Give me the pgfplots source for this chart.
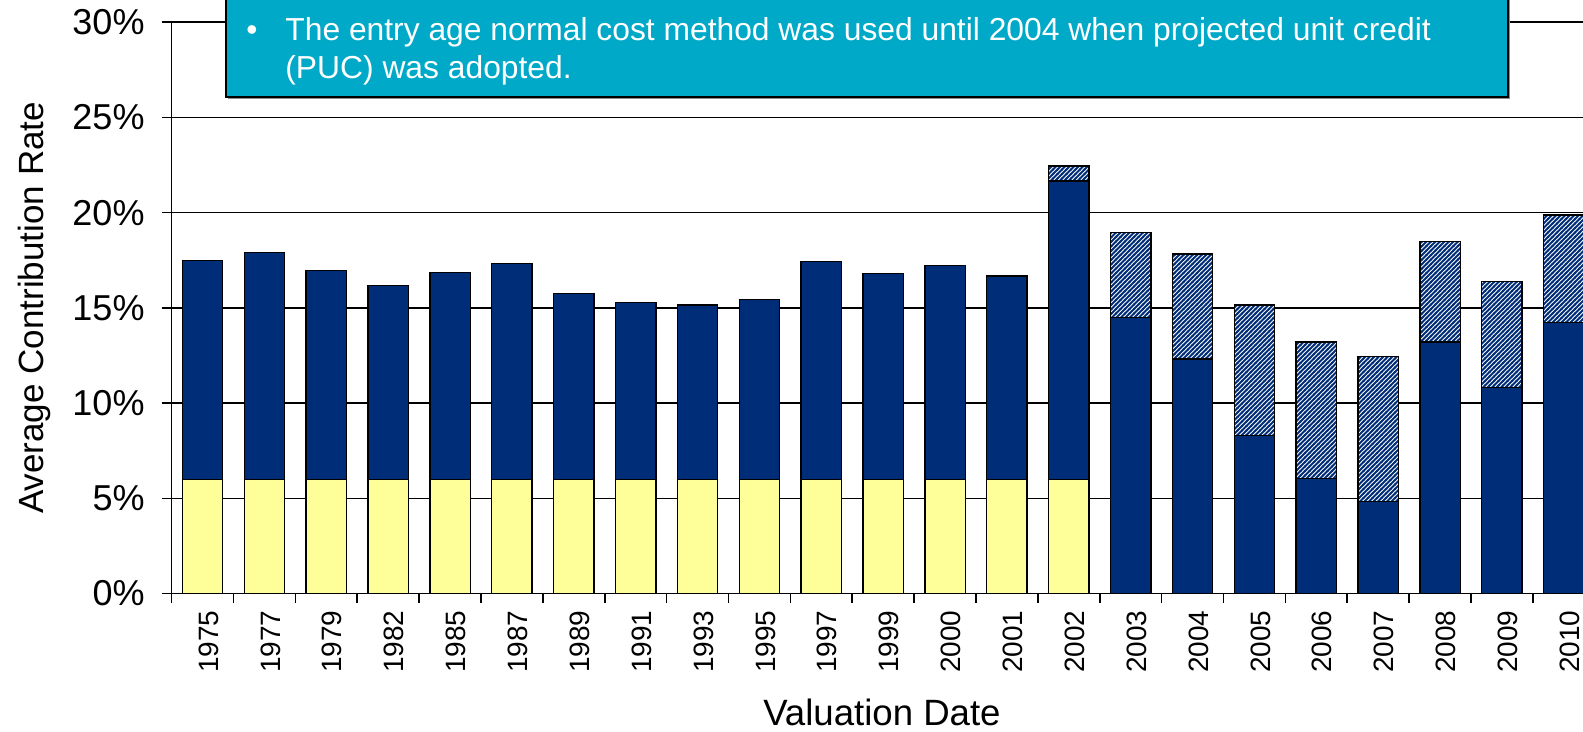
\documentclass[border=0pt]{standalone}
\usepackage{pgfplots}
\pgfplotsset{compat=1.18}
\usepackage{pgfplotstable}
\usepackage{fontspec}
\setmainfont{Liberation Sans}
\usetikzlibrary{patterns}
\definecolor{navy}{RGB}{0,45,120}
\definecolor{lightyellow}{RGB}{255,255,153}
\definecolor{callout}{RGB}{0,169,199}

\pgfdeclarepatternformonly{finehatch}{\pgfqpoint{-1pt}{-1pt}}{\pgfqpoint{3.3pt}{3.3pt}}{\pgfqpoint{2.25pt}{2.25pt}}{%
  \pgfsetlinewidth{0.9pt}%
  \pgfpathmoveto{\pgfqpoint{-0.3pt}{-0.3pt}}%
  \pgfpathlineto{\pgfqpoint{2.55pt}{2.55pt}}%
  \pgfusepath{stroke}}

\pgfplotstableread{
x yellow navy hatch
0 6 11.50 0
1 6 11.90 0
2 6 10.97 0
3 6 10.17 0
4 6 10.86 0
5 6 11.34 0
6 6 9.75 0
7 6 9.27 0
8 6 9.16 0
9 6 9.43 0
10 6 11.44 0
11 6 10.81 0
12 6 11.23 0
13 6 10.68 0
14 6 15.67 0.79
15 0 14.49 4.47
16 0 12.32 5.50
17 0 8.29 6.87
18 0 6.04 7.16
19 0 4.83 7.61
20 0 13.20 5.27
21 0 10.82 5.58
22 0 14.23 5.64
}\datatable

\begin{document}
\begin{tikzpicture}
\begin{axis}[
  at={(85.8pt,69.2pt)}, anchor=south west,
  scale only axis, width=705.7pt, height=285.7pt,
  xmin=-0.5, xmax=22.31, ymin=0, ymax=30,
  ybar stacked, bar width=20.2pt,
  axis x line*=bottom, axis y line*=left,
  axis line style={line width=0.8pt, black},
  ytick={0,5,...,30},
  yticklabels={0\%,5\%,10\%,15\%,20\%,25\%,30\%},
  ymajorgrids, grid style={black, line width=0.7pt},
  xtick={0,...,22},
  xticklabels={1975,1977,1979,1982,1985,1987,1989,1991,1993,1995,1997,1999,2000,2001,2002,2003,2004,2005,2006,2007,2008,2009,2010},
  minor xtick={-0.5,0.5,...,21.5},
  tick align=outside,
  major tick length=5pt, minor tick length=4.5pt,
  tick style={black, line width=0.8pt},
  major x tick style={draw=none},
  yticklabel style={font=\fontsize{18}{20}\selectfont, xshift=-5pt},
  xticklabel style={font=\fontsize{14}{16}\selectfont, rotate=90, anchor=east, yshift=-3pt},
  xlabel={Valuation Date},
  xlabel style={font=\fontsize{18.3}{20}\selectfont, at={(axis description cs:0.5033,-0.2300)}, anchor=base, inner sep=0pt},
  ylabel={Average Contribution Rate},
  ylabel style={font=\fontsize{17.5}{20}\selectfont, at={(axis description cs:-0.0911,0.5)}, anchor=base},
]
\addplot[fill=lightyellow, draw=black, line width=0.7pt] table[x=x,y=yellow]{\datatable};
\addplot[fill=navy, draw=black, line width=0.7pt] table[x=x,y=navy]{\datatable};
\addplot[draw=black, line width=0.7pt, preaction={fill=white},
  pattern=finehatch, pattern color=navy] table[x=x,y=hatch]{\datatable};
\end{axis}
\fill[black!45] (113.9pt,316.6pt) rectangle (754.9pt,400pt);
\draw[fill=callout, draw=black, line width=0.8pt] (113pt,317.5pt) rectangle (754pt,400pt);
\node[anchor=base, text=white, font=\fontsize{15.9}{18}\selectfont, inner sep=0pt] at (126pt,345.6pt) {•};
\node[anchor=base west, text=white, font=\fontsize{15.9}{18}\selectfont, inner sep=0pt] at (142.5pt,345.6pt) {The entry age normal cost method was used until 2004 when projected unit credit};
\node[anchor=base west, text=white, font=\fontsize{15.9}{18}\selectfont, inner sep=0pt] at (142.5pt,326.5pt) {(PUC) was adopted.};
\pgfresetboundingbox
\useasboundingbox (0,0) rectangle (791.5pt,366pt);
\end{tikzpicture}
\end{document}
